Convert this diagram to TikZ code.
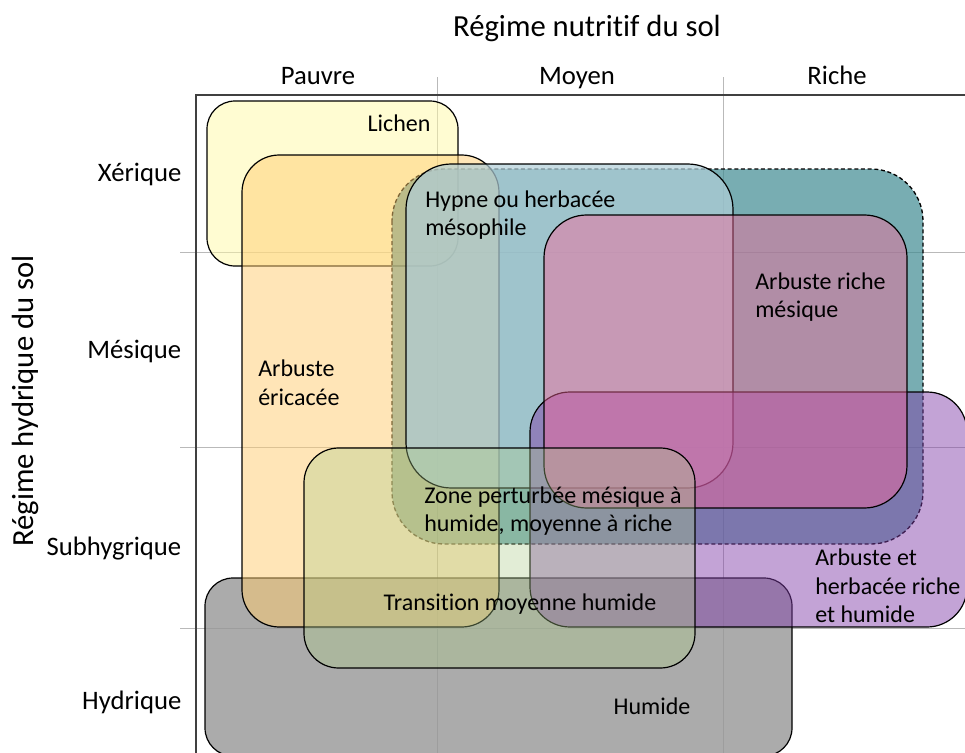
\documentclass[tikz,border=0pt]{standalone}
\usepackage{fontspec}
\setmainfont{Carlito}[Ligatures={NoCommon,NoContextual}]
\usepackage{xcolor}
\usepackage{tikz}
\definecolor{humidegray}{HTML}{969696}
\definecolor{lichenyellow}{HTML}{FFF9A6}
\definecolor{zoneteal}{HTML}{3F8A91}
\definecolor{ericaorange}{HTML}{FFCC70}
\definecolor{hypneblue}{HTML}{B0CED8}
\definecolor{richeviolet}{HTML}{813EA9}
\definecolor{richepink}{HTML}{F8669A}
\definecolor{transgreen}{HTML}{ABCB89}

\begin{document}
\begin{tikzpicture}[
  x=0.75pt,y=-0.75pt,
  region/.style={draw=black,line width=0.9pt,rounded corners=#1},
  gridline/.style={draw=gray!55,line width=0.6pt},
  title/.style={font=\fontsize{23}{27}\selectfont},
  axislabel/.style={font=\fontsize{20}{24}\selectfont,anchor=base},
  boxlabel/.style={font=\fontsize{18}{21.5}\selectfont,align=left,inner sep=0pt}
]
\useasboundingbox (0,0) rectangle (965,753);
\clip (0,0) rectangle (965,753);
% grille et cadre
\draw[gridline] (437,77) -- (437,760);
\draw[gridline] (723,77) -- (723,760);
\foreach \yy in {252,447,628}
  \draw[gridline] (180,\yy) -- (975,\yy);
\draw[black!75,line width=1.2pt] (196,770) -- (196,95) -- (975,95);
% zones
\draw[region=21pt,fill=humidegray,fill opacity=0.8] (205,578) rectangle (792,756);
\draw[region=21pt,fill=lichenyellow,fill opacity=0.5] (207,101) rectangle (458,266);
\draw[region=39pt,fill=zoneteal,fill opacity=0.7,line width=1pt,dash pattern=on 3pt off 2pt] (392,169) rectangle (923,544);
\draw[region=28pt,fill=ericaorange,fill opacity=0.5] (242,155) rectangle (499,627);
\draw[region=34pt,fill=hypneblue,fill opacity=0.7] (406,164) rectangle (733,488);
\draw[region=30pt,fill=richeviolet,fill opacity=0.48] (530,392) rectangle (967,627);
\draw[region=32pt,fill=richepink,fill opacity=0.45] (544,215) rectangle (907,508);
\draw[region=26pt,fill=transgreen,fill opacity=0.35] (304,448) rectangle (695,668);
% axes
\node[title] (nutritif) at (587,28) {Régime nutritif du sol};
\node[title,rotate=90] (hydrique) at (25,401) {Régime hydrique du sol};
\node[axislabel] (pauvre) at (318,84) {Pauvre};
\node[axislabel] (moyen) at (577,84) {Moyen};
\node[axislabel] (riche) at (837,84) {Riche};
\node[axislabel,anchor=base east] (xerique) at (186,181) {Xérique};
\node[axislabel,anchor=base east] (mesique) at (186,358) {Mésique};
\node[axislabel,anchor=base east] (subhyg) at (186,555) {Subhygrique};
\node[axislabel,anchor=base east] (hydr) at (186,709) {Hydrique};
% etiquettes
\node[boxlabel] (lichen) at (399,123) {Lichen};
\node[boxlabel,anchor=west] (erica) at (258,383) {Arbuste\\éricacée};
\node[boxlabel,anchor=west] (hypne) at (425,215) {Hypne ou herbacée\\mésophile};
\node[boxlabel,anchor=west] (richemes) at (755,297) {Arbuste riche\\mésique};
\node[boxlabel,anchor=west] (zone) at (424,511) {Zone perturbée mésique à\\humide, moyenne à riche};
\node[boxlabel,anchor=west] (richehum) at (815,586) {Arbuste et\\herbacée riche\\et humide};
\node[boxlabel] (transition) at (520,604) {Transition moyenne humide};
\node[boxlabel] (humide) at (652,706) {Humide};
\end{tikzpicture}
\end{document}
